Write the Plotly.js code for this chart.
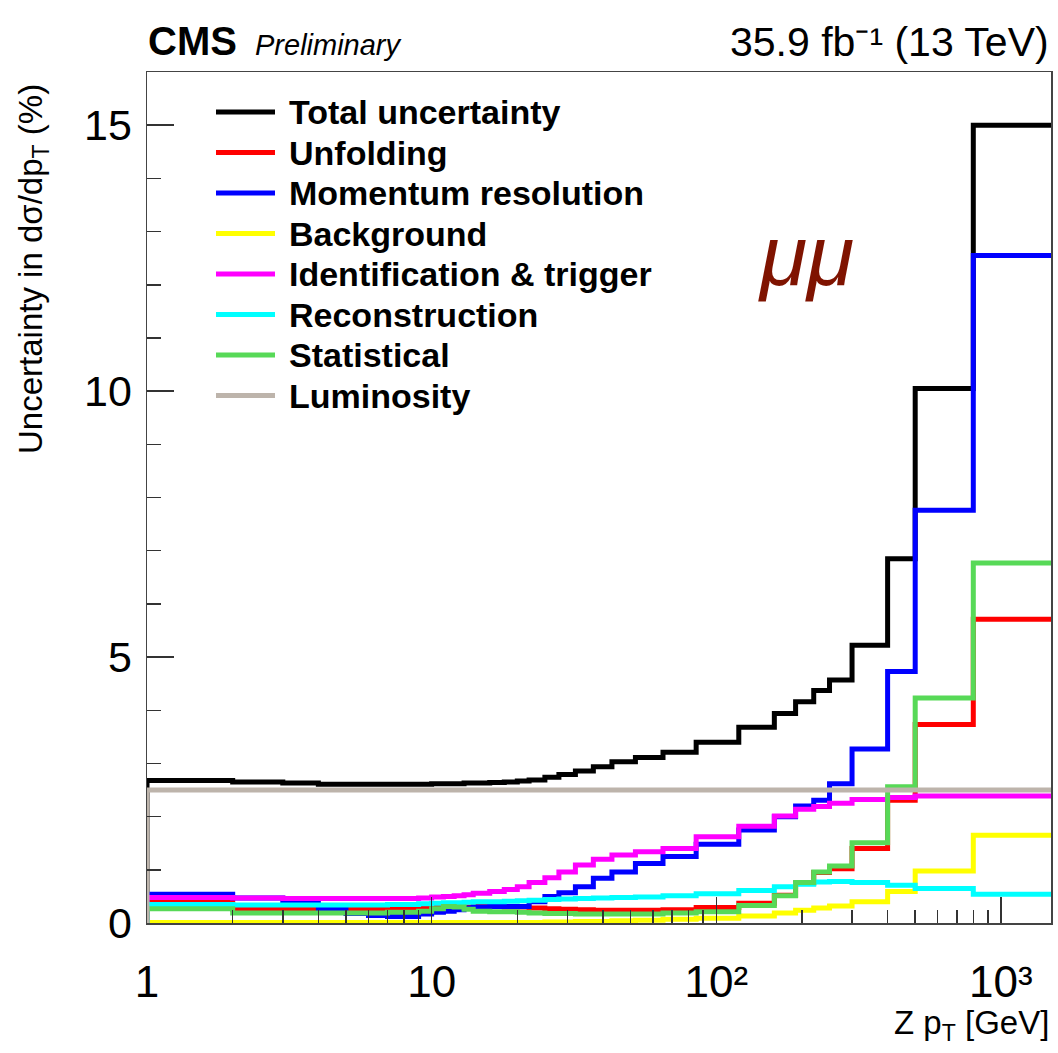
<!DOCTYPE html>
<html><head><meta charset="utf-8">
<script src="https://cdn.plot.ly/plotly-3.0.1.min.js"></script>
<style>html,body{margin:0;padding:0;background:#fff;} #chart{width:1058px;height:1053px;}</style>
</head><body><div id="chart"></div>
<script>
// Z pT bin edges (GeV) visible on the log axis
const binEdges = [1,2,3,4,5,6,7,8,9,10,11,12,13,14,16,18,20,22,25,28,32,37,43,52,65,85,120,160,190,220,250,300,400,500,800,1500];

// Uncertainties in % per bin
const totalUnc = [2.68,2.65,2.63,2.61,2.61,2.61,2.61,2.61,2.61,2.62,2.62,2.62,2.63,2.63,2.64,2.65,2.67,2.69,2.74,2.79,2.86,2.94,3.03,3.11,3.21,3.40,3.68,3.94,4.16,4.37,4.57,5.22,6.85,10.05,15.0];
const unfoldingUnc = [0.40,0.26,0.26,0.26,0.26,0.26,0.27,0.27,0.28,0.29,0.30,0.30,0.30,0.31,0.31,0.30,0.30,0.28,0.27,0.26,0.25,0.24,0.24,0.24,0.25,0.29,0.37,0.52,0.75,0.95,1.02,1.40,2.31,3.73,5.71];
const momentumUnc = [0.54,0.47,0.40,0.26,0.18,0.14,0.12,0.12,0.17,0.20,0.22,0.25,0.28,0.30,0.31,0.31,0.31,0.40,0.50,0.57,0.68,0.84,0.96,1.12,1.25,1.48,1.75,2.00,2.20,2.31,2.62,3.27,4.73,7.76,12.55];
const backgroundUnc = [0.01,0.01,0.01,0.01,0.01,0.01,0.01,0.01,0.01,0.01,0.01,0.01,0.01,0.01,0.01,0.01,0.01,0.01,0.02,0.02,0.03,0.03,0.04,0.05,0.07,0.09,0.13,0.19,0.24,0.28,0.32,0.40,0.59,0.98,1.65];
const idTriggerUnc = [0.48,0.47,0.46,0.46,0.46,0.46,0.46,0.46,0.47,0.49,0.50,0.51,0.53,0.56,0.59,0.63,0.68,0.76,0.85,0.96,1.09,1.20,1.28,1.34,1.40,1.62,1.82,2.01,2.14,2.19,2.25,2.32,2.36,2.39,2.39];
const recoUnc = [0.35,0.34,0.34,0.34,0.34,0.34,0.35,0.35,0.36,0.37,0.38,0.38,0.39,0.40,0.40,0.41,0.42,0.43,0.44,0.45,0.46,0.47,0.48,0.49,0.51,0.55,0.61,0.68,0.73,0.77,0.78,0.76,0.71,0.65,0.54];
const statUnc = [0.27,0.19,0.19,0.19,0.19,0.19,0.20,0.20,0.22,0.27,0.31,0.30,0.26,0.22,0.21,0.21,0.20,0.19,0.18,0.18,0.17,0.17,0.17,0.17,0.19,0.21,0.33,0.51,0.76,0.96,1.07,1.51,2.56,4.23,6.77];
const lumiUnc = [2.5,2.5,2.5,2.5,2.5,2.5,2.5,2.5,2.5,2.5,2.5,2.5,2.5,2.5,2.5,2.5,2.5,2.5,2.5,2.5,2.5,2.5,2.5,2.5,2.5,2.5,2.5,2.5,2.5,2.5,2.5,2.5,2.5,2.5,2.5];

const seriesNames = ["Total uncertainty","Unfolding","Momentum resolution","Background","Identification & trigger","Reconstruction","Statistical","Luminosity"];
const seriesValues = [totalUnc, unfoldingUnc, momentumUnc, backgroundUnc, idTriggerUnc, recoUnc, statUnc, lumiUnc];
const seriesColors = ["#000000","#ff0000","#0000ff","#ffff00","#ff00ff","#00ffff","#57d957","#bdb4ab"];

const xTickVals = [1,10,100,1000];
const xTickText = ["1","10","10²","10³"];
const yTickVals = [0,5,10,15];

const FONT = '"Liberation Sans", Arial, Helvetica, sans-serif';

// step histograms (start from 0 at the first edge, like ROOT's drawing)
const traces = seriesValues.map((vals, i) => ({
  type: 'scatter', mode: 'lines', name: seriesNames[i],
  x: [binEdges[0]].concat(binEdges),
  y: [0].concat(vals, [vals[vals.length - 1]]),
  line: {shape: 'hv', color: seriesColors[i], width: 5},
  hoverinfo: 'skip'
}));

// minor log ticks
const minorX = [];
for (let d = 1; d <= 100; d *= 10) for (let k = 2; k <= 9; k++) minorX.push(k * d);

// ROOT-style legend drawn in the upper left
const W = 904, H = 851;
const px = v => (v - 147) / W;
const py = v => (923 - v) / H;
const shapes = [], annotations = [];
seriesNames.forEach((n, i) => {
  const yy = py(112 + 40.5 * i);
  shapes.push({type: 'line', xref: 'paper', yref: 'paper', x0: px(216), x1: px(275), y0: yy, y1: yy,
               line: {color: seriesColors[i], width: 5}});
  annotations.push({xref: 'paper', yref: 'paper', x: px(287), y: yy, xanchor: 'left', yanchor: 'middle',
                    text: n.replace('&', '&amp;'), showarrow: false,
                    font: {family: FONT, size: 34, color: '#000', weight: 'bold'}});
});
annotations.push(
  {xref: 'paper', yref: 'paper', x: px(146), y: py(41), xanchor: 'left', yanchor: 'middle', showarrow: false,
   text: 'CMS', font: {family: FONT, size: 40, color: '#000', weight: 'bold'}},
  {xref: 'paper', yref: 'paper', x: px(253), y: py(45), xanchor: 'left', yanchor: 'middle', showarrow: false,
   text: 'Preliminary', font: {family: FONT, size: 29, color: '#000', style: 'italic'}},
  {xref: 'paper', yref: 'paper', x: 1.0, y: py(42), xanchor: 'right', yanchor: 'middle', showarrow: false,
   text: '35.9 fb⁻¹ (13 TeV)', font: {family: FONT, size: 41, color: '#000'}},
  {xref: 'paper', yref: 'paper', x: px(33), y: py(82), xanchor: 'center', yanchor: 'top', showarrow: false,
   textangle: -90, text: 'Uncertainty in dσ/dp<sub>T</sub> (%)', font: {family: FONT, size: 33, color: '#000'}},
  {xref: 'paper', yref: 'paper', x: 1.0, y: py(1025), xanchor: 'right', yanchor: 'middle', showarrow: false,
   text: 'Z p<sub>T</sub> [GeV]', font: {family: FONT, size: 33, color: '#000'}},
  {xref: 'paper', yref: 'paper', x: px(806), y: py(255), xanchor: 'center', yanchor: 'middle', showarrow: false,
   text: 'μμ', font: {family: FONT, size: 86, color: '#7f1300', style: 'italic'}}
);

const layout = {
  width: 1058, height: 1053,
  margin: {l: 147, r: 7, t: 72, b: 130, pad: 0},
  paper_bgcolor: '#fff', plot_bgcolor: '#fff',
  showlegend: false,
  font: {family: FONT, color: '#000'},
  xaxis: {
    type: 'log', range: [0, Math.log10(1500)],
    tickmode: 'array', tickvals: xTickVals, ticktext: xTickText,
    ticks: 'inside', ticklen: 26, tickwidth: 1.5, tickcolor: '#333',
    minor: {tickmode: 'array', tickvals: minorX, ticks: 'inside', ticklen: 13, tickwidth: 1.5, tickcolor: '#333', showgrid: false},
    showline: true, mirror: true, linecolor: '#444', linewidth: 1.5,
    showgrid: false, zeroline: false,
    tickfont: {family: FONT, size: 44, color: '#000'}, ticklabelstandoff: 20
  },
  yaxis: {
    range: [0, 16],
    tickmode: 'array', tickvals: yTickVals,
    ticks: 'inside', ticklen: 27, tickwidth: 1.5, tickcolor: '#333',
    minor: {dtick: 1, ticks: 'inside', ticklen: 14, tickwidth: 1.5, tickcolor: '#333', showgrid: false},
    showline: true, mirror: true, linecolor: '#444', linewidth: 1.5,
    showgrid: false, zeroline: false,
    tickfont: {family: FONT, size: 43, color: '#000'}, ticklabelstandoff: 5
  },
  shapes: shapes,
  annotations: annotations
};

Plotly.newPlot('chart', traces, layout, {displayModeBar: false, staticPlot: true});
</script>
</body></html>
